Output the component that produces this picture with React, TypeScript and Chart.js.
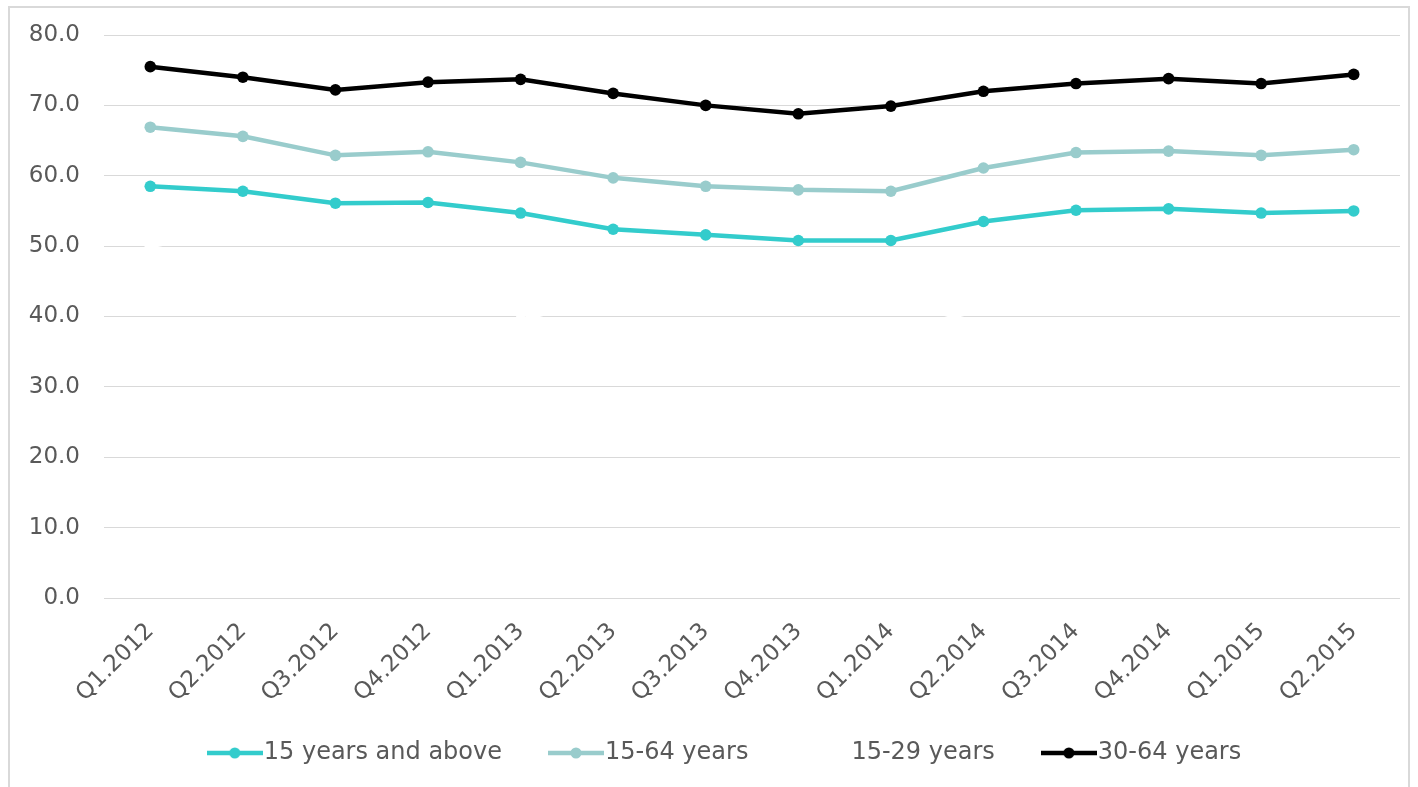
import React, { useEffect, useRef } from "react";
import { Chart, registerables } from "chart.js";

Chart.register(...registerables);

const categories = [
  "Q1.2012", "Q2.2012", "Q3.2012", "Q4.2012",
  "Q1.2013", "Q2.2013", "Q3.2013", "Q4.2013",
  "Q1.2014", "Q2.2014", "Q3.2014", "Q4.2014",
  "Q1.2015", "Q2.2015",
];

const years15plus = [58.5, 57.8, 56.1, 56.2, 54.7, 52.4, 51.6, 50.8, 50.8, 53.5, 55.1, 55.3, 54.7, 55.0];
const years15to64 = [66.9, 65.6, 62.9, 63.4, 61.9, 59.7, 58.5, 58.0, 57.8, 61.1, 63.3, 63.5, 62.9, 63.7];
const years15to29 = [49.9, 47.2, 44.6, 43.0, 40.5, 36.8, 35.6, 35.1, 37.4, 41.2, 43.8, 44.4, 43.5, 44.1];
const years30to64 = [75.5, 74.0, 72.2, 73.3, 73.7, 71.7, 70.0, 68.8, 69.9, 72.0, 73.1, 73.8, 73.1, 74.4];

const seriesLabels = ["15 years and above", "15-64 years", "15-29 years", "30-64 years"];
const seriesColors = ["#33CCCC", "#99CCCC", "#FFFFFF", "#000000"];

const yMin = 0;
const yMax = 80;
const yStep = 10;

const FONT = "'DejaVu Sans', Verdana, sans-serif";
const TEXT = "#595959";

function makeIcon(color: string): HTMLCanvasElement {
  const c = document.createElement("canvas");
  c.width = 56;
  c.height = 14;
  const ctx = c.getContext("2d")!;
  ctx.strokeStyle = color;
  ctx.lineWidth = 4.5;
  ctx.beginPath();
  ctx.moveTo(0, 7);
  ctx.lineTo(56, 7);
  ctx.stroke();
  ctx.fillStyle = color;
  ctx.beginPath();
  ctx.arc(28, 7, 5.5, 0, Math.PI * 2);
  ctx.fill();
  return c;
}

// place the legend row: starts so that its text is centred at y≈753
const legendShift = {
  id: "legendShift",
  afterLayout(chart: any) {
    const l = chart.legend;
    if (l) {
      l.left = 59;
      l.right = 1400;
      l.top = 684;
      l.bottom = 764;
    }
  },
};

export default function App() {
  const ref = useRef<HTMLCanvasElement | null>(null);

  useEffect(() => {
    if (!ref.current) return;
    const icons = seriesColors.map(makeIcon);
    const dataSets = [years15plus, years15to64, years15to29, years30to64];
    const chart = new Chart(ref.current, {
      type: "line",
      data: {
        labels: categories,
        datasets: dataSets.map((d, i) => ({
          label: seriesLabels[i],
          data: d,
          borderColor: seriesColors[i],
          backgroundColor: seriesColors[i],
          pointBackgroundColor: seriesColors[i],
          pointBorderColor: seriesColors[i],
          borderWidth: 4.5,
          pointRadius: 5.8,
          pointBorderWidth: 0,
          tension: 0,
          fill: false,
        })),
      },
      plugins: [legendShift],
      options: {
        animation: false,
        responsive: true,
        maintainAspectRatio: false,
        layout: { padding: { left: 0, right: 18, top: 35, bottom: 23 } },
        plugins: {
          tooltip: { enabled: false },
          legend: {
            position: "bottom",
            maxHeight: 50,
            labels: {
              usePointStyle: true,
              pointStyleWidth: 34,
              padding: 57,
              color: TEXT,
              font: { family: FONT, size: 24 },
              generateLabels: (ch: any) => {
                const items = Chart.defaults.plugins.legend.labels.generateLabels(ch);
                return items.map((it: any, i: number) => ({ ...it, pointStyle: icons[i] }));
              },
            },
          },
        },
        scales: {
          x: {
            offset: true,
            grid: { display: false, drawTicks: false },
            border: { display: false },
            afterFit: (s: any) => { s.height = 116; },
            ticks: {
              color: TEXT,
              font: { family: FONT, size: 23 },
              minRotation: 45,
              maxRotation: 45,
              padding: 20,
              autoSkip: false,
            },
          },
          y: {
            min: yMin,
            max: yMax,
            afterFit: (s: any) => {
              s.width = 104;
              s.paddingTop = 0;
              s.paddingBottom = 0;
            },
            grid: { color: "#D9D9D9", lineWidth: 1, drawTicks: false },
            border: { display: false },
            ticks: {
              stepSize: yStep,
              color: TEXT,
              font: { family: FONT, size: 23 },
              padding: 24,
              callback: (v: any) => Number(v).toFixed(1),
            },
          },
        },
      },
    });
    return () => chart.destroy();
  }, []);

  return (
    <div style={{ position: "absolute", left: 0, top: 0, width: 1418, height: 787 }}>
      <div
        style={{
          position: "absolute",
          left: 8,
          top: 6,
          width: 1402,
          height: 781,
          borderTop: "2px solid #D9D9D9",
          borderLeft: "2px solid #D9D9D9",
          borderRight: "2px solid #D9D9D9",
          boxSizing: "border-box",
        }}
      />
      <canvas ref={ref} style={{ position: "absolute", left: 0, top: 0 }} />
    </div>
  );
}
